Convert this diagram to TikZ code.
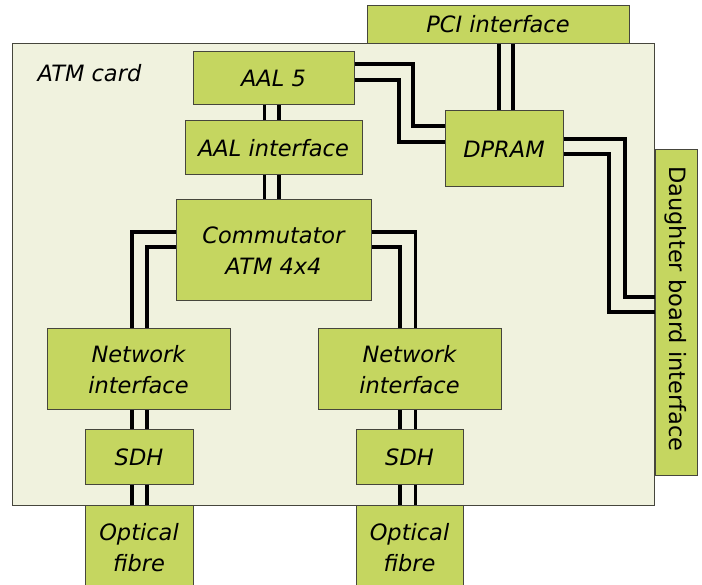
\documentclass[tikz,border=0pt]{standalone}
\usepackage{fontspec}
\setmainfont{DejaVu Sans}
\usetikzlibrary{calc}
\definecolor{boxgreen}{RGB}{197,214,96}
\definecolor{cardbg}{RGB}{240,242,222}
\definecolor{edgegray}{RGB}{70,70,60}
\tikzset{
  blk/.style={draw=edgegray, line width=1pt, fill=boxgreen, inner sep=0pt, align=center,
    font=\fontsize{22.5}{31}\selectfont\itshape},
  bus/.style={line width=3.1pt, black, line join=miter, line cap=butt},
}
\begin{document}
\begin{tikzpicture}[x=1pt,y=-1pt]
\useasboundingbox (0,0) rectangle (702,585);
% PCI interface (behind card)
\node[blk, minimum width=262pt, minimum height=38.5pt] (pci) at (498,24.5) {PCI interface};
% ATM card
\node[draw=edgegray, line width=1pt, fill=cardbg, minimum width=642pt, minimum height=461.5pt, inner sep=0pt] (card) at (333,274.25) {};
\node[anchor=base west, font=\fontsize{22.5}{27}\selectfont\itshape] (cardlbl) at (34,82) {ATM card};
% Daughter board
\node[blk, minimum width=42pt, minimum height=325pt] (db) at (676,312.5) {};
\node[rotate=-90, font=\fontsize{22.5}{27}\selectfont] (dblbl) at (676,309) {Daughter board interface};
% blocks
\node[blk, minimum width=161pt, minimum height=53pt] (aal) at (273.5,78.5) {AAL 5};
\node[blk, minimum width=177pt, minimum height=54pt] (aalif) at (273.5,148) {AAL interface};
\node[blk, minimum width=195pt, minimum height=101pt] (com) at (273.5,250.5) {Commutator\\ATM 4x4};
\node[blk, minimum width=118pt, minimum height=76pt] (dpram) at (504,149) {DPRAM};
\node[blk, minimum width=183pt, minimum height=81pt] (nil) at (138.5,369.5) {Network\\interface};
\node[blk, minimum width=183pt, minimum height=81pt] (nir) at (409.5,369.5) {Network\\interface};
\node[blk, minimum width=108pt, minimum height=54pt] (sdhl) at (139,457) {SDH};
\node[blk, minimum width=107pt, minimum height=54pt] (sdhr) at (409.5,457) {SDH};
\node[blk, minimum width=108pt, minimum height=86pt] (ofl) at (139,548) {Optical\\fibre};
\node[blk, minimum width=107pt, minimum height=86pt] (ofr) at (409.5,548) {Optical\\fibre};
% vertical buses
\foreach \xx in {264.5,279}{
  \draw[bus] (aal.south -| \xx,0) -- (aalif.north -| \xx,0);
  \draw[bus] (aalif.south -| \xx,0) -- (com.north -| \xx,0);
}
\foreach \xx in {499,513}{
  \draw[bus] (pci.south -| \xx,0) -- (dpram.north -| \xx,0);
}
\foreach \xx in {132,147}{
  \draw[bus] (nil.south -| \xx,0) -- (sdhl.north -| \xx,0);
  \draw[bus] (sdhl.south -| \xx,0) -- (ofl.north -| \xx,0);
}
\foreach \xx in {400,415.5}{
  \draw[bus] (nir.south -| \xx,0) -- (sdhr.north -| \xx,0);
  \draw[bus] (sdhr.south -| \xx,0) -- (ofr.north -| \xx,0);
}
% commutator to network interfaces
\draw[bus] (com.west |- 0,232) -| (nil.north -| 132,0);
\draw[bus] (com.west |- 0,247) -| (nil.north -| 147,0);
\draw[bus] (com.east |- 0,232) -| (nir.north -| 415.5,0);
\draw[bus] (com.east |- 0,247) -| (nir.north -| 400,0);
% AAL5 to DPRAM
\draw[bus] (aal.east |- 0,64) -- (413,64) |- (dpram.west |- 0,126);
\draw[bus] (aal.east |- 0,80) -- (399,80) |- (dpram.west |- 0,142);
% DPRAM to daughter board
\draw[bus] (dpram.east |- 0,139) -- (625,139) |- (db.west |- 0,297);
\draw[bus] (dpram.east |- 0,154) -- (609,154) |- (db.west |- 0,312);
\end{tikzpicture}
\end{document}
